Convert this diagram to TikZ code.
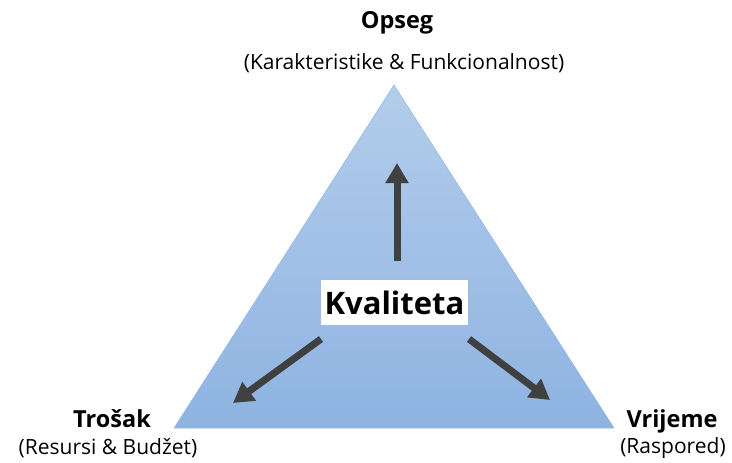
\documentclass[tikz,border=0pt]{standalone}
\usepackage{fontspec}
\setmainfont{Open Sans}
\usetikzlibrary{arrows.meta}
\definecolor{triTop}{HTML}{B3CDEB}
\definecolor{triBot}{HTML}{8EB3E1}
\definecolor{arrowGray}{HTML}{404040}
\tikzset{
  x=1pt, y=-1pt,
  titlelbl/.style={font=\fontsize{23.5}{28}\selectfont\bfseries, inner sep=0pt, anchor=center},
  sublbl/.style={font=\fontsize{21}{25}\selectfont, inner sep=0pt, anchor=center},
  bigarrow/.style={draw=arrowGray, line width=7pt, -{Triangle[length=20pt,width=22pt]}},
}
\begin{document}
\begin{tikzpicture}
\useasboundingbox (0,0) rectangle (732,463);
\coordinate (apex) at (394,85);
\coordinate (bl) at (174,428);
\coordinate (br) at (614,428);
\shade[top color=triTop, bottom color=triBot, draw=triBot!90!white, line width=0.6pt] (apex) -- (br) -- (bl) -- cycle;

\node[fill=white, inner xsep=4pt, inner ysep=2pt, minimum width=143pt, minimum height=45pt, font=\fontsize{31}{36}\selectfont\bfseries] (kv) at (394.5,302.5) {Kvaliteta};

\coordinate (upS) at (397,261);
\coordinate (upE) at (397,163);
\coordinate (lS) at (321,339);
\coordinate (lE) at (233,403);
\coordinate (rS) at (469,339);
\coordinate (rE) at (550,400);
\draw[bigarrow] (upS) -- (upE);
\draw[bigarrow] (lS) -- (lE);
\draw[bigarrow] (rS) -- (rE);

\node[titlelbl] (opseg) at (397,23) {Opseg};
\node[sublbl] (opsegsub) at (404,63) {(Karakteristike \& Funkcionalnost)};
\node[titlelbl] (trosak) at (112,419) {Trošak};
\node[sublbl] (trosaksub) at (108,448) {(Resursi \& Budžet)};
\node[titlelbl] (vrijeme) at (672,421) {Vrijeme};
\node[sublbl] (vrijemesub) at (673,448) {(Raspored)};
\end{tikzpicture}
\end{document}
